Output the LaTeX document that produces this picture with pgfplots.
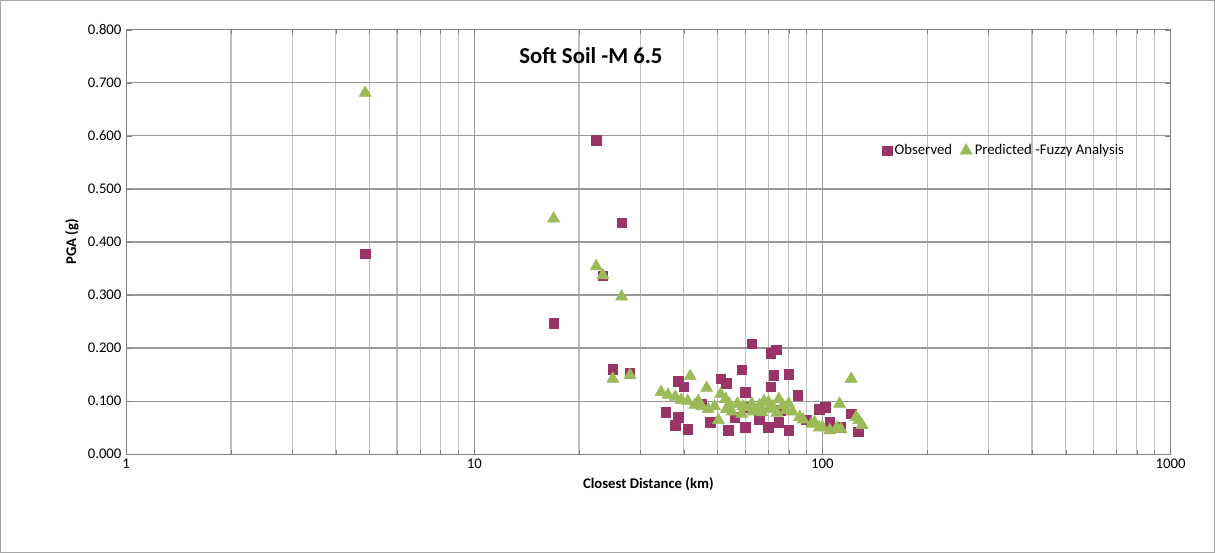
\documentclass[border=0pt]{standalone}
\usepackage{pgfplots}
\pgfplotsset{compat=1.18}
\usepackage{fontspec}
\setmainfont{Carlito}
\definecolor{obs}{HTML}{9B3466}
\definecolor{pred}{HTML}{9BBB59}
\begin{document}
\begin{tikzpicture}
\path[draw=gray!70] (-94pt,-73.5pt) rectangle (813pt,339pt);
\begin{axis}[scale only axis, width=780pt, height=317pt,
 xmode=log, xmin=1, xmax=1000, ymin=0, ymax=0.8,
 ytick={0,0.1,...,0.8},
 log ticks with fixed point,
 /pgf/number format/assume math mode=true,
 xticklabel style={/pgf/number format/1000 sep={}},
 yticklabel style={/pgf/number format/.cd,fixed,fixed zerofill,precision=3},
 ticklabel style={font=\fontsize{11}{13}\selectfont},
 grid=both, major grid style={gray!80, line width=0.9pt}, minor grid style={gray!50, line width=0.9pt},
 axis line style={gray}, tick style={gray},
 xlabel={\bfseries Closest Distance (km)}, ylabel={\bfseries PGA (g)},
 label style={font=\fontsize{11}{13}\selectfont\bfseries},
 legend style={at={(0.72,0.715)}, anchor=west, draw=none, fill=none, font=\fontsize{11}{13}\selectfont, legend columns=2, /tikz/every even column/.append style={column sep=4pt}},
 legend cell align=left,
 title={\bfseries Soft Soil -M 6.5}, title style={at={(0.445,0.95)}, anchor=north, font=\fontsize{17}{20}\selectfont\bfseries},
]
\addplot[only marks, mark=square*, mark size=3.6pt, color=obs] coordinates {
(4.86,0.378)(16.9,0.247)(22.4,0.592)(23.4,0.336)(26.5,0.436)(25,0.160)(28,0.153)
(62.7,0.208)(73.8,0.197)(71,0.19)(58.6,0.159)(38.6,0.138)(51,0.142)(53,0.134)
(72.5,0.149)(80,0.151)(71,0.127)(60,0.117)(85,0.111)(40,0.127)(35.5,0.079)
(38.6,0.07)(37.8,0.055)(41,0.047)(47.6,0.060)(53.7,0.045)(60,0.051)(70,0.051)
(80,0.045)(97.9,0.085)(102,0.089)(121,0.076)(127,0.042)(113,0.051)(61,0.089)(76,0.083)
(45,0.095)(56,0.07)(66,0.065)(75,0.06)(90,0.065)(105,0.06)
};
\addlegendentry{Observed}
\addplot[only marks, mark=triangle*, mark size=5.2pt, color=pred] coordinates {
(4.86,0.681)(16.9,0.444)(22.4,0.354)(23.4,0.337)(26.5,0.297)(25,0.142)(28,0.149)
(41.7,0.147)(46.5,0.125)(34.4,0.117)(37.8,0.108)(39.3,0.102)(43,0.093)(47,0.085)
(51,0.113)(52.7,0.104)(50.3,0.064)(57,0.095)(62.7,0.095)(70,0.098)(75,0.104)
(80,0.095)(78.6,0.083)(58.6,0.076)(67,0.079)(86,0.070)(93,0.057)(100,0.051)
(105,0.045)(113,0.047)(112,0.095)(121,0.142)(127,0.064)(130,0.055)
(55,0.08)(65,0.085)(72,0.09)(45,0.09)(60,0.088)(54,0.095)(68,0.1)(77,0.092)
(36,0.112)(41,0.1)(49,0.09)(53,0.085)(63,0.08)(70,0.085)(74,0.078)(82,0.08)
(95,0.06)(98,0.05)(110,0.05)(125,0.07)(88,0.065)(44,0.1)(59,0.09)(66,0.092)
};
\addlegendentry{Predicted -Fuzzy Analysis}
\end{axis}
\end{tikzpicture}
\end{document}
